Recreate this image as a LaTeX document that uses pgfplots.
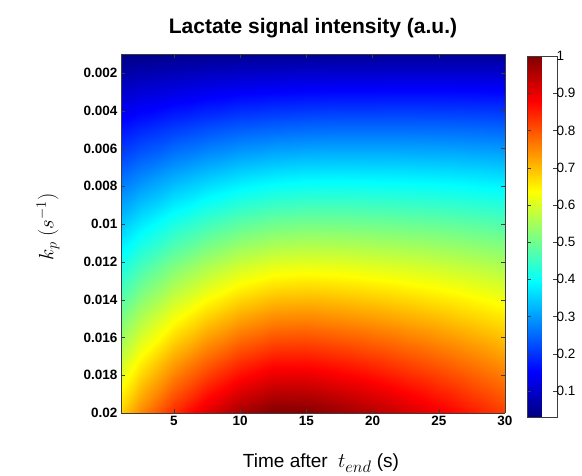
\documentclass[border=0pt]{standalone}
\usepackage{fontspec}
\setmainfont{Liberation Sans}
\usepackage{graphicx}
\usepackage{pgfplots}
\pgfplotsset{compat=1.18}

\definecolor{axisGray}{RGB}{60,60,60}

% lactate signal: x = time after t_end (s), y = k_p (1/s), z = signal (a.u.)
\pgfplotstableread{
x y z
1 0.001 0.034
2.5 0.001 0.038
5 0.001 0.042
7.5 0.001 0.046
10 0.001 0.048
12.5 0.001 0.050
15 0.001 0.051
17.5 0.001 0.052
20 0.001 0.052
22.5 0.001 0.053
25 0.001 0.053
27.5 0.001 0.053
30 0.001 0.052

1 0.0025 0.085
2.5 0.0025 0.094
5 0.0025 0.105
7.5 0.0025 0.114
10 0.0025 0.121
12.5 0.0025 0.125
15 0.0025 0.128
17.5 0.0025 0.130
20 0.0025 0.130
22.5 0.0025 0.131
25 0.0025 0.131
27.5 0.0025 0.130
30 0.0025 0.129

1 0.005 0.170
2.5 0.005 0.188
5 0.005 0.210
7.5 0.005 0.228
10 0.005 0.242
12.5 0.005 0.250
15 0.005 0.255
17.5 0.005 0.257
20 0.005 0.257
22.5 0.005 0.257
25 0.005 0.256
27.5 0.005 0.254
30 0.005 0.250

1 0.0075 0.255
2.5 0.0075 0.281
5 0.0075 0.315
7.5 0.0075 0.341
10 0.0075 0.362
12.5 0.0075 0.375
15 0.0075 0.381
17.5 0.0075 0.382
20 0.0075 0.381
22.5 0.0075 0.379
25 0.0075 0.376
27.5 0.0075 0.371
30 0.0075 0.364

1 0.01 0.340
2.5 0.01 0.375
5 0.01 0.420
7.5 0.01 0.455
10 0.01 0.483
12.5 0.01 0.500
15 0.01 0.506
17.5 0.01 0.505
20 0.01 0.501
22.5 0.01 0.496
25 0.01 0.490
27.5 0.01 0.481
30 0.01 0.470

1 0.0125 0.425
2.5 0.0125 0.469
5 0.0125 0.525
7.5 0.0125 0.569
10 0.0125 0.604
12.5 0.0125 0.625
15 0.0125 0.630
17.5 0.0125 0.626
20 0.0125 0.618
22.5 0.0125 0.609
25 0.0125 0.598
27.5 0.0125 0.585
30 0.0125 0.569

1 0.015 0.510
2.5 0.015 0.563
5 0.015 0.630
7.5 0.015 0.683
10 0.015 0.724
12.5 0.015 0.749
15 0.015 0.753
17.5 0.015 0.744
20 0.015 0.732
22.5 0.015 0.717
25 0.015 0.701
27.5 0.015 0.681
30 0.015 0.660

1 0.0175 0.595
2.5 0.0175 0.656
5 0.0175 0.735
7.5 0.0175 0.796
10 0.0175 0.845
12.5 0.0175 0.874
15 0.0175 0.875
17.5 0.0175 0.861
20 0.0175 0.843
22.5 0.0175 0.821
25 0.0175 0.798
27.5 0.0175 0.772
30 0.0175 0.744

1 0.02 0.680
2.5 0.02 0.750
5 0.02 0.840
7.5 0.02 0.910
10 0.02 0.965
12.5 0.02 0.998
15 0.02 0.996
17.5 0.02 0.975
20 0.02 0.950
22.5 0.02 0.920
25 0.02 0.890
27.5 0.02 0.855
30 0.02 0.820
}\lactate

\begin{document}
\begin{tikzpicture}
\begin{axis}[
  view={0}{90},
  scale only axis,
  width=384pt, height=359pt,
  xmin=1, xmax=30, ymin=0.001, ymax=0.02,
  y dir=reverse,
  axis line style={draw=axisGray},
  tick style={draw=axisGray},
  tick align=inside,
  xtick={5,10,15,20,25,30},
  ytick={0.002,0.004,0.006,0.008,0.01,0.012,0.014,0.016,0.018,0.02},
  yticklabels={0.002,0.004,0.006,0.008,0.01,0.012,0.014,0.016,0.018,0.02},
  scaled y ticks=false,
  /pgf/number format/assume math mode=true,
  tick label style={font=\fontsize{13.5}{16}\selectfont\bfseries},
  title={Lactate signal intensity (a.u.)},
  title style={font=\fontsize{21}{24}\selectfont\bfseries, at={(axis description cs:0.5,1)}, anchor=base, yshift=15pt},
  xlabel={Time after\ \hspace{5pt}{\fontsize{21}{24}\selectfont$t_{\scalebox{0.8}{$\textstyle end$}}$}\ (s)},
  xlabel style={font=\fontsize{19}{22}\selectfont, at={(axis description cs:0.5,0)}, anchor=base, yshift=-55pt, xshift=8pt},
  ylabel={$k_p\ (s^{-1})$},
  ylabel style={font=\fontsize{20}{24}\selectfont, at={(axis description cs:0,0.5)}, anchor=center, xshift=6.5pt, yshift=73pt},
  colormap/jet,
  point meta min=0.03, point meta max=1,
  colorbar,
  colorbar style={
    at={(parent axis.north east)}, anchor=north west,
    xshift=13.5pt, yshift=-2pt,
    scale only axis,
    width=30pt, height=361pt,
    axis line style={draw=axisGray},
    tick style={draw=axisGray},
    ytick={0.1,0.2,0.3,0.4,0.5,0.6,0.7,0.8,0.9,1},
    yticklabels={0.1,0.2,0.3,0.4,0.5,0.6,0.7,0.8,0.9,1},
    /pgf/number format/assume math mode=true,
    yticklabel style={font=\fontsize{13.5}{16}\selectfont, xshift=-4pt},
  },
]
\addplot3[surf, shader=interp, mesh/cols=13] table[x=x, y=y, z=z] {\lactate};
\end{axis}
\pgfresetboundingbox
\path[use as bounding box] (-121pt,-63pt) rectangle (461pt,413pt);
\end{tikzpicture}
\end{document}
